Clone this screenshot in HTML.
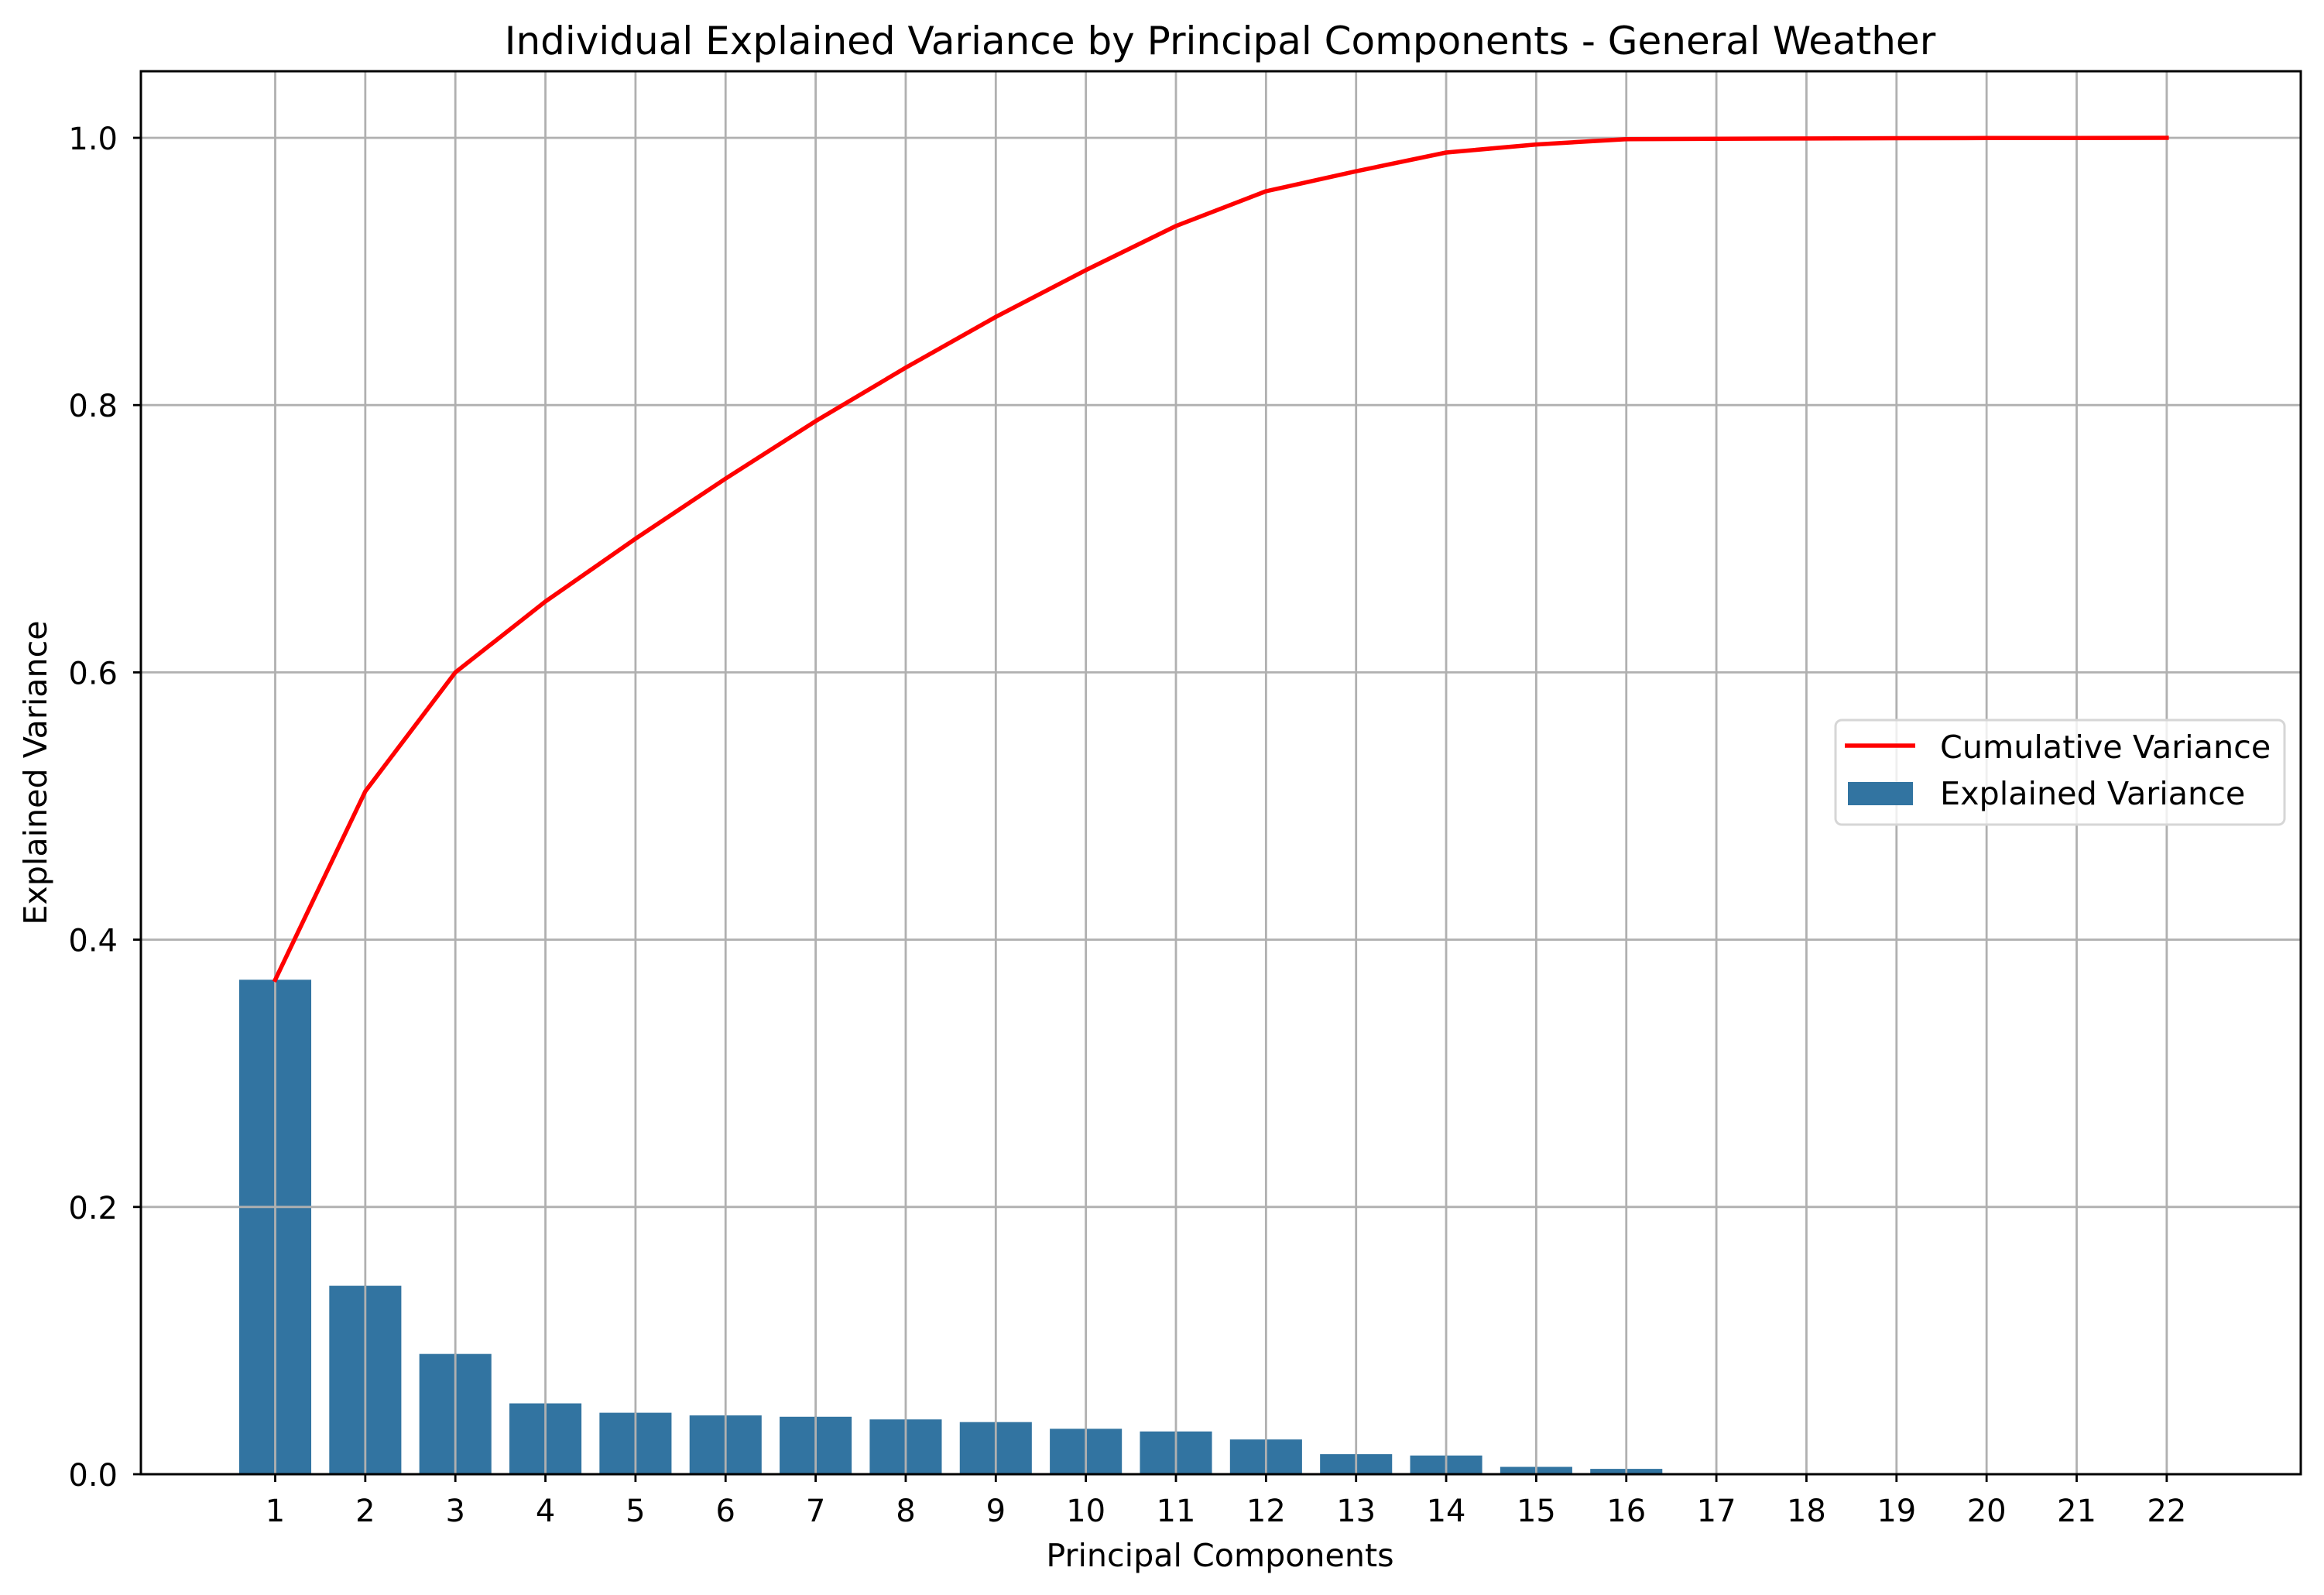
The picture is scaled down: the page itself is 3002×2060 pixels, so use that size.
<!DOCTYPE html>
<html><head><meta charset="utf-8"><style>
html,body{margin:0;padding:0;background:#fff;}
svg{display:block;font-family:"DejaVu Sans","Liberation Sans",sans-serif;}
</style></head><body>
<svg id="chart" width="3002" height="2060" viewBox="0 0 3002 2060" xmlns="http://www.w3.org/2000/svg">
<rect width="3002" height="2060" fill="#fff"/>
<text x="1576" y="70" font-size="50" text-anchor="middle">Individual Explained Variance by Principal Components - General Weather</text>
<g id="grid"></g>
<g id="bars"></g>
<g id="line"></g>
<g id="axes"></g>
<text x="1576" y="2023" font-size="41.2" text-anchor="middle">Principal Components</text>
<text x="0" y="0" font-size="41.2" text-anchor="middle" transform="translate(60,998) rotate(-90)">Explained Variance</text>
<g>
<rect x="2371" y="930" width="580" height="135" rx="8" fill="#fff" fill-opacity="0.8" stroke="#d6d6d6" stroke-width="3"/>
<line x1="2383" y1="963" x2="2474" y2="963" stroke="#ff0000" stroke-width="5.5"/>
<text x="2506" y="979" font-size="41.3">Cumulative Variance</text>
<rect x="2387" y="1010" width="84" height="30" fill="#3274a1"/>
<text x="2506" y="1039" font-size="41.3">Explained Variance</text>
</g>
</svg>
<script>
const categories = [1,2,3,4,5,6,7,8,9,10,11,12,13,14,15,16,17,18,19,20,21,22];
const explained = [0.370,0.141,0.090,0.053,0.046,0.044,0.043,0.041,0.039,0.034,0.032,0.026,0.015,0.014,0.0055,0.004,0.0004,0.0003,0.0002,0.0001,0.0001,0.0001];
const cumulative = [0.370,0.511,0.600,0.653,0.700,0.745,0.788,0.828,0.866,0.901,0.934,0.960,0.975,0.989,0.995,0.999,0.9993,0.9995,0.9997,0.9998,0.9999,1.0];
const yTicks = [0.0,0.2,0.4,0.6,0.8,1.0];
const yTickLabels = ["0.0","0.2","0.4","0.6","0.8","1.0"];

const NS = "http://www.w3.org/2000/svg";
const L = 182, R = 2972, T = 92, B = 1904;
function xs(v){ return 355.5 + (v - 1) * 116.35; }
function ys(v){ return 1904 - v * 1726; }
function mk(tag, attrs, parent){
  const e = document.createElementNS(NS, tag);
  for (const k in attrs) e.setAttribute(k, attrs[k]);
  parent.appendChild(e);
  return e;
}
const grid = document.getElementById('grid');
const bars = document.getElementById('bars');
const lineG = document.getElementById('line');
const axes = document.getElementById('axes');

categories.forEach(c => {
  const g = mk('line', {x1: xs(c), x2: xs(c), y1: T, y2: B, stroke: '#b0b0b0', 'stroke-width': 2.8}, grid);
  
  
});
yTicks.forEach(t => {
  const g = mk('line', {x1: L, x2: R, y1: ys(t), y2: ys(t), stroke: '#b0b0b0', 'stroke-width': 2.8}, grid);
  
  
});

const bw = 0.8 * 116.35;
categories.forEach((c, i) => {
  const b = mk('rect', {x: xs(c) - bw / 2, y: ys(explained[i]), width: bw, height: ys(0) - ys(explained[i]), fill: '#3274a1'}, bars);
  
  
});
categories.forEach((c, i) => {
  const g = mk('line', {x1: xs(c), x2: xs(c), y1: ys(explained[i]), y2: B, stroke: '#b0b0b0', 'stroke-width': 2.8}, bars);
  
  
});
yTicks.forEach(t => {
  categories.forEach((c, i) => {
    if (explained[i] > t && t > 0) {
      const g = mk('line', {x1: xs(c) - bw / 2, x2: xs(c) + bw / 2, y1: ys(t), y2: ys(t), stroke: '#b0b0b0', 'stroke-width': 2.8}, bars);
      
      
    }
  });
});

const pts = categories.map((c, i) => xs(c).toFixed(1) + ',' + ys(cumulative[i]).toFixed(1)).join(' ');
const pl = mk('polyline', {points: pts, fill: 'none', stroke: '#ff0000', 'stroke-width': 5.5, 'stroke-linejoin': 'round', 'stroke-linecap': 'square'}, lineG);



const frame = mk('rect', {x: L, y: T, width: R - L, height: B - T, fill: 'none', stroke: '#000', 'stroke-width': 3}, axes);



categories.forEach(c => {
  const t = mk('line', {x1: xs(c), x2: xs(c), y1: B, y2: B + 10, stroke: '#000', 'stroke-width': 2.8}, axes);
  
  
  const tx = mk('text', {x: xs(c), y: 1965, 'font-size': 40, 'text-anchor': 'middle'}, axes);
  tx.textContent = String(c);
  
  
});
yTicks.forEach((v, i) => {
  const t = mk('line', {x1: L - 10, x2: L, y1: ys(v), y2: ys(v), stroke: '#000', 'stroke-width': 2.8}, axes);
  
  
  const tx = mk('text', {x: 152, y: ys(v) + 15, 'font-size': 40, 'text-anchor': 'end'}, axes);
  tx.textContent = yTickLabels[i];
  
  
});
</script>
</body></html>
